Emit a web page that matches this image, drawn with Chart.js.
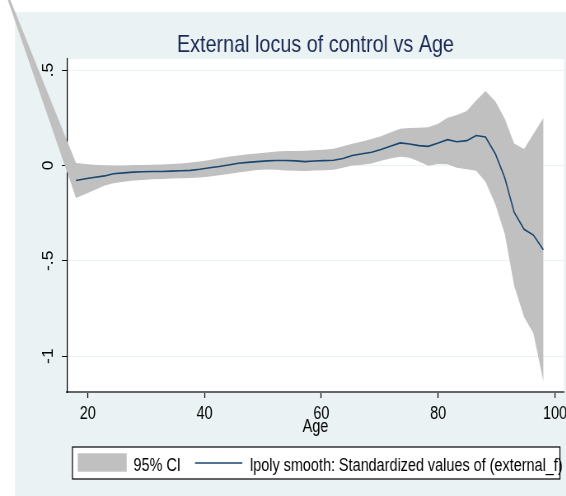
<!DOCTYPE html>
<html>
<head>
<meta charset="utf-8">
<title>External locus of control vs Age</title>
<script src="https://cdn.jsdelivr.net/npm/chart.js@4.4.1/dist/chart.umd.min.js"></script>
<style>
  html, body { margin: 0; padding: 0; background: #fff; overflow: hidden; }
  #wrap { width: 566px; height: 496px; overflow: hidden; }
  /* the original export is squeezed horizontally, so draw wide and squeeze */
  #wrap canvas { display: block; transform: scaleX(0.824); transform-origin: 0 0; }
</style>
</head>
<body>
<div id="wrap"><canvas id="chart" width="720" height="496"></canvas></div>
<script>
const SX = 0.824;               // horizontal squeeze, must match the css above
const sx = v => v / SX;         // screen x -> canvas x
const FONT = '"Liberation Sans", Arial, sans-serif';

// lpoly smooth line (age, standardized value)
const smoothAge = [18.0, 19.6, 21.0, 22.9, 24.4, 26.2, 27.8, 29.4, 31.1, 32.7,
                   34.3, 36.0, 37.6, 39.2, 40.9, 42.5, 44.1, 45.8, 47.4, 49.0,
                   50.7, 52.3, 53.9, 55.6, 57.2, 58.8, 60.4, 62.1, 63.7, 65.3,
                   67.0, 68.6, 70.2, 71.8, 73.5, 75.1, 76.7, 78.3, 80.0, 81.6,
                   83.2, 84.9, 86.5, 88.1, 89.8, 91.4, 93.0, 94.7, 96.3, 98.0];
const smoothVal = [-0.079, -0.070, -0.063, -0.055, -0.044, -0.039, -0.035, -0.033, -0.032, -0.032,
                   -0.030, -0.028, -0.026, -0.020, -0.012, -0.006, 0.002, 0.011, 0.016, 0.020,
                   0.024, 0.026, 0.026, 0.024, 0.020, 0.023, 0.025, 0.027, 0.036, 0.052,
                   0.061, 0.069, 0.083, 0.100, 0.118, 0.112, 0.104, 0.100, 0.118, 0.135,
                   0.124, 0.130, 0.157, 0.149, 0.060, -0.065, -0.245, -0.335, -0.365, -0.442];

// 95% CI band (first point is the stray vertex Stata draws outside the plot)
const ciAge = [3.7, 18.0, 19.6, 21.0, 22.9, 24.4, 26.2, 27.8, 29.4, 31.1, 32.7,
               34.3, 36.0, 37.6, 39.2, 40.9, 42.5, 44.1, 45.8, 47.4, 49.0,
               50.7, 52.3, 53.9, 55.6, 57.2, 58.8, 60.4, 62.1, 63.7, 65.3,
               67.0, 68.6, 70.2, 71.8, 73.5, 75.1, 76.7, 78.3, 80.0, 81.6,
               83.2, 84.9, 86.5, 88.1, 89.8, 91.4, 93.0, 94.7, 96.3, 98.0];
const ciUpper = [1.10, 0.013, 0.008, 0.004, 0.001, 0.000, 0.000, 0.002, 0.002, 0.003, 0.005,
                 0.007, 0.010, 0.015, 0.021, 0.029, 0.037, 0.045, 0.052, 0.058, 0.063,
                 0.068, 0.073, 0.075, 0.076, 0.077, 0.079, 0.082, 0.088, 0.100, 0.113,
                 0.125, 0.138, 0.153, 0.173, 0.192, 0.196, 0.197, 0.200, 0.218, 0.250,
                 0.265, 0.285, 0.340, 0.390, 0.335, 0.245, 0.115, 0.086, 0.165, 0.248];
const ciLower = [1.10, -0.171, -0.150, -0.131, -0.105, -0.094, -0.085, -0.079, -0.076, -0.073, -0.071,
                 -0.069, -0.067, -0.066, -0.063, -0.058, -0.052, -0.045, -0.037, -0.030, -0.024,
                 -0.022, -0.023, -0.026, -0.028, -0.029, -0.027, -0.025, -0.023, -0.012, 0.000,
                 0.004, 0.010, 0.025, 0.036, 0.045, 0.040, 0.020, -0.002, 0.008, 0.006,
                 -0.012, -0.020, -0.028, -0.085, -0.205, -0.360, -0.630, -0.795, -0.880, -1.132];

const xTicks = [20, 40, 60, 80, 100];
const yTicks = [-1, -0.5, 0, 0.5];

const ciLabel = '95% CI';
const lineLabel = 'lpoly smooth: Standardized values of (external_f)';

const BG = '#eaf2f3';
const BAND = '#c0c0c0';
const NAVY = '#1a476f';

// light blue-grey graph region + white plot region
const stataFrame = {
    id: 'stataFrame',
    beforeDraw(chart) {
        const { ctx, chartArea: a } = chart;
        ctx.save();
        ctx.fillStyle = BG;
        ctx.fillRect(sx(15), 12, chart.width, chart.height - 12);
        ctx.fillStyle = '#fff';
        ctx.fillRect(a.left, a.top, a.right - a.left, a.bottom - a.top);
        ctx.restore();
    }
};

// CI area, not clipped to the plot (Stata lets it run off to the top-left)
const ciBand = {
    id: 'ciBand',
    beforeDatasetsDraw(chart) {
        const { ctx, scales: { x, y } } = chart;
        ctx.save();
        ctx.beginPath();
        ciAge.forEach((age, i) => {
            const px = x.getPixelForValue(age), py = y.getPixelForValue(ciUpper[i]);
            if (i === 0) ctx.moveTo(px, py); else ctx.lineTo(px, py);
        });
        for (let i = ciAge.length - 1; i >= 0; i--) {
            ctx.lineTo(x.getPixelForValue(ciAge[i]), y.getPixelForValue(ciLower[i]));
        }
        ctx.closePath();
        ctx.fillStyle = BAND;
        ctx.fill();
        ctx.restore();
    }
};

// boxed legend under the axis title
const stataLegend = {
    id: 'stataLegend',
    afterDraw(chart) {
        const { ctx, chartArea: a } = chart;
        const top = a.bottom + 54.5, h = 32;
        const left = sx(72), right = sx(559.5);
        const base = top + 24;
        ctx.save();
        ctx.fillStyle = '#fff';
        ctx.fillRect(left, top, right - left, h);

        ctx.fillStyle = BAND;
        ctx.fillRect(sx(77.7), top + 6.8, sx(126.7) - sx(77.7), 18.4);

        ctx.font = '17.5px ' + FONT;
        ctx.fillStyle = '#000';
        ctx.textBaseline = 'alphabetic';
        ctx.fillText(ciLabel, sx(133.5), base);

        ctx.strokeStyle = NAVY;
        ctx.lineWidth = 1.5;
        ctx.beginPath();
        ctx.moveTo(sx(195), top + 16.5);
        ctx.lineTo(sx(242.3), top + 16.5);
        ctx.stroke();

        ctx.fillText(chart.data.datasets[0].label, sx(250), base);

        ctx.strokeStyle = '#000';
        ctx.lineWidth = 1.2;
        ctx.strokeRect(left + 0.5, top + 0.5, right - left, h);
        ctx.restore();
    }
};

const tickFont = { family: FONT, size: 17.5, lineHeight: 1 };

new Chart(document.getElementById('chart'), {
    type: 'line',
    data: {
        datasets: [{
            label: lineLabel,
            data: smoothAge.map((a, i) => ({ x: a, y: smoothVal[i] })),
            borderColor: NAVY,
            borderWidth: 1.6,
            pointRadius: 0,
            tension: 0,
            fill: false
        }]
    },
    options: {
        responsive: false,
        animation: false,
        events: [],
        layout: { padding: { left: 0, right: 720 - sx(564), top: 0, bottom: 58 } },
        plugins: {
            legend: { display: false },
            tooltip: { enabled: false },
            title: {
                display: true,
                fullSize: false,
                text: 'External locus of control vs Age',
                color: '#1a2a55',
                font: { family: FONT, size: 24, weight: 'normal', lineHeight: 1 },
                padding: { top: 33, bottom: 2 }
            }
        },
        scales: {
            x: {
                type: 'linear',
                min: 16.46,
                max: 101.54,
                afterBuildTicks: s => { s.ticks = xTicks.map(v => ({ value: v })); },
                afterFit: s => { s.height = 46; },
                grid: { drawOnChartArea: false, tickLength: 6, tickColor: '#000', tickWidth: 1.2 },
                border: { color: '#666', width: 2 },
                ticks: { color: '#000', font: tickFont, padding: 7, maxRotation: 0, autoSkip: false },
                title: { display: true, text: 'Age', color: '#000', font: tickFont, padding: { top: 0, bottom: 2 } }
            },
            y: {
                type: 'linear',
                min: -1.188,
                max: 0.558,
                afterBuildTicks: s => { s.ticks = yTicks.map(v => ({ value: v })); },
                afterFit: s => { s.width = sx(67); },
                grid: { color: BG, lineWidth: 1, tickLength: sx(5), tickColor: '#000' },
                border: { color: '#000', width: 1.2 },
                ticks: {
                    color: '#000', font: tickFont, padding: 5.5,
                    minRotation: 90, maxRotation: 90, crossAlign: 'center',
                    callback: v => String(v).replace('0.', '.')
                }
            }
        }
    },
    plugins: [stataFrame, ciBand, stataLegend]
});
</script>
</body>
</html>
